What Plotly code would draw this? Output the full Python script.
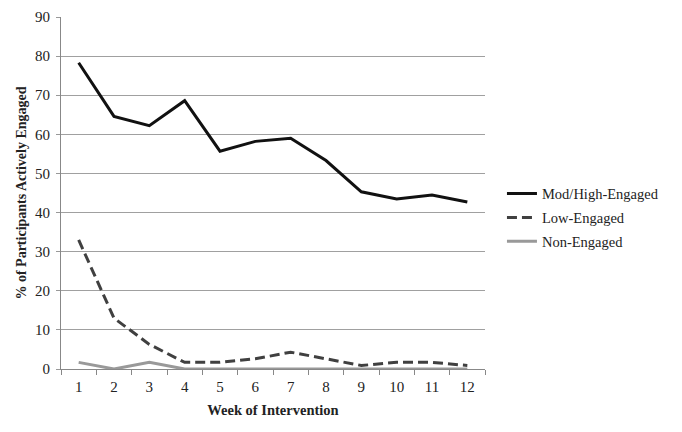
import plotly.graph_objects as go

weeks = ["1", "2", "3", "4", "5", "6", "7", "8", "9", "10", "11", "12"]
mod_high = [78.3, 64.6, 62.2, 68.6, 55.7, 58.2, 59.0, 53.3, 45.3, 43.5, 44.5, 42.7]
low = [33.0, 13.0, 6.3, 1.7, 1.7, 2.6, 4.3, 2.6, 0.9, 1.7, 1.7, 0.9]
non = [1.7, 0.0, 1.7, 0.0, 0.0, 0.0, 0.0, 0.0, 0.0, 0.0, 0.0, 0.0]
y_ticks = [0, 10, 20, 30, 40, 50, 60, 70, 80, 90]

font = "Liberation Serif, Times New Roman, serif"

fig = go.Figure()
fig.add_trace(go.Scatter(x=weeks, y=mod_high, mode="lines", name="Mod/High-Engaged",
                         legendgroup="a", line=dict(color="#111111", width=3)))
fig.add_trace(go.Scatter(x=weeks, y=low, mode="lines", name="Low-Engaged",
                         legendgroup="b", line=dict(color="#404040", width=3, dash="10px,5px")))
fig.add_trace(go.Scatter(x=weeks, y=non, mode="lines", name="Non-Engaged",
                         legendgroup="c", line=dict(color="#999999", width=3)))

fig.update_layout(
    width=682, height=432,
    margin=dict(l=53, r=205, t=9, b=71),
    paper_bgcolor="white", plot_bgcolor="white",
    font=dict(family=font, size=15, color="#222222"),
    legend=dict(x=1.04, y=0.43, xanchor="left", yanchor="middle",
                font=dict(family=font, size=14.5, color="#222222"),
                tracegroupgap=2, bgcolor="rgba(0,0,0,0)"),
    xaxis=dict(type="category", range=[-0.5, 11.5], tickson="boundaries",
               ticks="outside", ticklen=5, automargin=False, ticklabelstandoff=4,
               tickcolor="#888888", showline=True, linecolor="#888888", linewidth=1,
               showgrid=False, tickfont=dict(family=font, size=15),
               title=dict(text="<b>Week of Intervention</b>", standoff=10,
                          font=dict(family=font, size=14.5))),
    yaxis=dict(range=[0, 90], tickvals=y_ticks, ticks="outside", ticklen=4,
               automargin=False, ticklabelstandoff=3,
               tickcolor="#999999", showline=True, linecolor="#888888", linewidth=1,
               showgrid=True, gridcolor="#a0a0a0", gridwidth=1, zeroline=False,
               tickfont=dict(family=font, size=15),
               title=dict(text="<b>% of Participants Actively Engaged</b>", standoff=5,
                          font=dict(family=font, size=14))),
)

fig.write_html("out.html")
